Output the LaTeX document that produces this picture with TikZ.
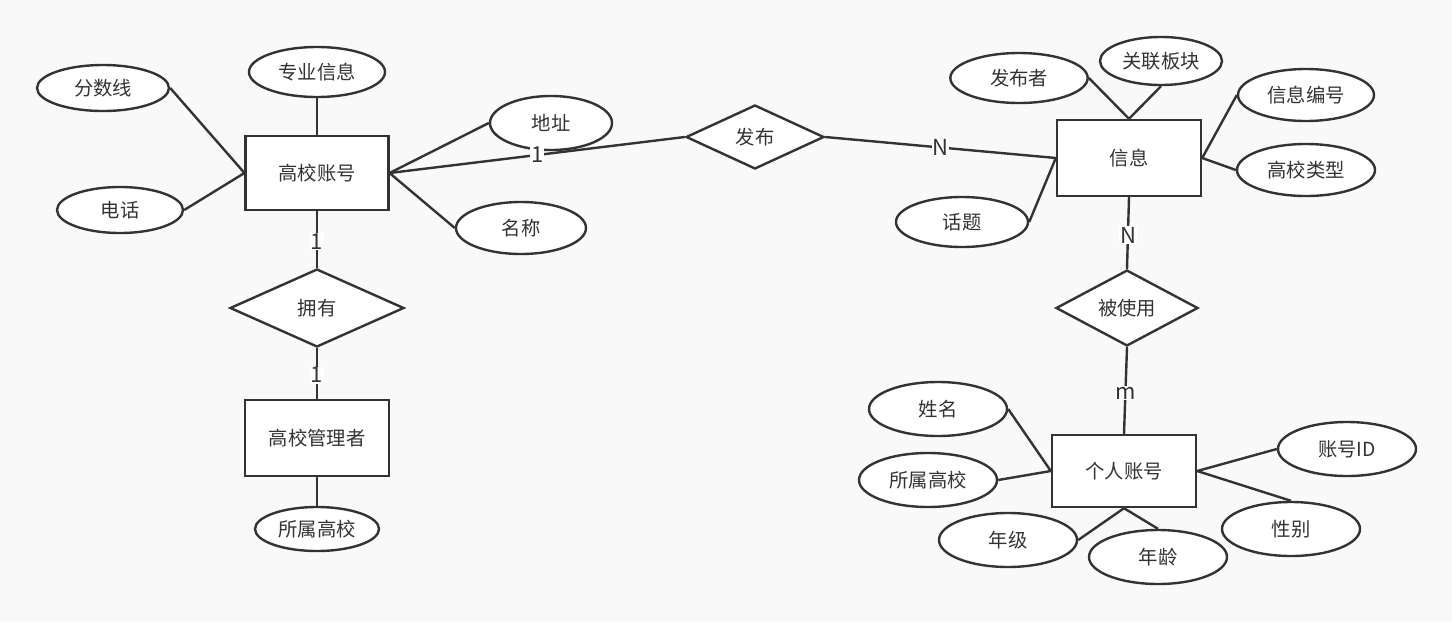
\documentclass[tikz,border=0pt]{standalone}
\usepackage{fontspec}
\setmainfont{Noto Sans CJK SC}
\usepackage{xcolor}
\usepackage{tikz}
\usetikzlibrary{shapes.geometric}
\definecolor{erbg}{HTML}{F9F9F9}
\definecolor{erline}{HTML}{333333}
\definecolor{ertext}{HTML}{333333}
\tikzset{
  erent/.style={rectangle, draw=erline, fill=white, line width=1.8pt,
                minimum width=107pt, minimum height=55.5pt, inner sep=0pt,
                text=ertext, font=\fontsize{14.5}{16}\selectfont},
  erattr/.style={ellipse, draw=erline, fill=white, line width=1.8pt,
                 minimum width=103.5pt, minimum height=40.5pt, inner sep=0pt,
                 text=ertext, font=\fontsize{14.5}{16}\selectfont},
  errel/.style={diamond, draw=erline, fill=white, line width=1.8pt,
                minimum width=104pt, minimum height=48pt, inner sep=0pt,
                text=ertext, font=\fontsize{14.5}{16}\selectfont},
  erlink/.style={draw=erline, line width=1.8pt},
  ercard/.style={fill=white, inner sep=0.5pt, text=ertext,
                 font=\fontsize{16.5}{18}\selectfont},
}
\begin{document}
\begin{tikzpicture}[x=0.75pt,y=-0.75pt]

  \fill[erbg] (0,0) rectangle (1452,622);
  \useasboundingbox (0,0) rectangle (1452,622);

  % left: school account
  \node[erent] (zy) at (317,173) {高校账号};
  \node[erattr, minimum width=102pt, minimum height=37.5pt] (zyxx) at (317,72) {专业信息};
  \node[erattr, minimum width=99pt, minimum height=34.5pt] (fsx) at (103,88) {分数线};
  \node[erattr, minimum width=94.5pt, minimum height=34.5pt] (dh) at (120,210) {电话};
  \node[erattr, minimum width=91.5pt, minimum height=40.5pt] (dz) at (551,123) {地址};
  \node[erattr, minimum width=97.5pt, minimum height=39pt] (mc) at (521,228) {名称};
  \node[errel, minimum width=130.5pt, minimum height=58.5pt] (yy) at (317,308) {拥有};
  \node[erent, minimum width=108pt, minimum height=57pt] (gly) at (317,438) {高校管理者};
  \node[erattr, minimum width=93pt, minimum height=33pt] (gx1) at (317,529) {所属高校};

  \node[errel, minimum width=103.5pt, minimum height=48pt] (fb) at (755,137) {发布};

  % right: information
  \node[erent, minimum width=108pt, minimum height=57pt] (xx) at (1129,158) {信息};
  \node[erattr, minimum width=103pt, minimum height=37.5pt] (fbz) at (1019,78) {发布者};
  \node[erattr, minimum width=91.5pt, minimum height=36pt] (glbk) at (1161,61) {关联板块};
  \node[erattr, minimum width=102pt, minimum height=39pt] (xxbh) at (1306,95) {信息编号};
  \node[erattr, minimum width=103.5pt, minimum height=39pt] (gxlx) at (1306,170) {高校类型};
  \node[erattr, minimum width=99pt, minimum height=37.5pt] (ht) at (962,222) {话题};
  \node[errel, minimum width=106.5pt, minimum height=49.5pt] (bsy) at (1127,308) {被使用};

  % right: personal account
  \node[erent, minimum width=108pt, minimum height=54pt] (grzh) at (1124,471) {个人账号};
  \node[erattr] (xm) at (938,409) {姓名};
  \node[erattr] (gx2) at (928,480) {所属高校};
  \node[erattr] (nj) at (1008,540) {年级};
  \node[erattr] (nl) at (1158,557) {年龄};
  \node[erattr] (zhid) at (1347,449) {账号ID};
  \node[erattr] (xb) at (1291,529) {性别};

  \foreach \a/\b in {zyxx.south/zy.north, fsx.east/zy.west, dh.east/zy.west,
                     dz.west/zy.east, mc.west/zy.east, gly.south/gx1.north,
                     fbz.east/xx.north, glbk.south/xx.north, xxbh.west/xx.east,
                     gxlx.west/xx.east, ht.east/xx.west,
                     xm.east/grzh.west, gx2.east/grzh.west, nj.east/grzh.south,
                     nl.north/grzh.south, zhid.west/grzh.east, xb.north/grzh.east}
    \draw[erlink] (\a) -- (\b);

  \draw[erlink] (zy.east) -- node[ercard, pos=0.5] {1} (fb.west);
  \draw[erlink] (zy.south) -- node[ercard, pos=0.54] {1} (yy.north);
  \draw[erlink] (yy.south) -- node[ercard, pos=0.53] {1} (gly.north);
  \draw[erlink] (fb.east) -- node[ercard, pos=0.5] {N} (xx.west);
  \draw[erlink] (xx.south) -- node[ercard, pos=0.53] {N} (bsy.north);
  \draw[erlink] (bsy.south) -- node[ercard, pos=0.53] {m} (grzh.north);

\end{tikzpicture}
\end{document}
